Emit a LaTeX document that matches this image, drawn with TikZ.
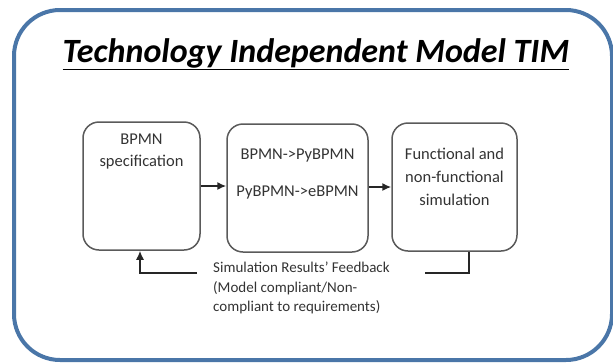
\documentclass[tikz,border=0pt]{standalone}
\usepackage{fontspec}
\setmainfont{Carlito}
\usetikzlibrary{arrows.meta, calc}
\definecolor{framecol}{HTML}{4A76A8}
\definecolor{boxcol}{HTML}{5A5A5A}
\definecolor{txtcol}{HTML}{333333}
\tikzset{
    stepbox/.style={draw=boxcol, line width=1.5pt, rounded corners=16pt, inner sep=0pt},
    boxtext/.style={text=txtcol, align=center, inner sep=0pt, font=\fontsize{16.5}{22}\selectfont},
    flow/.style={draw=black!85, line width=1.5pt, -{Latex[length=9pt, width=8pt]}},
}

\begin{document}
\begin{tikzpicture}[x=1pt, y=-1pt]
        \useasboundingbox (0,0) rectangle (613,362);
        % outer frame
        \draw[framecol, line width=4pt, rounded corners=46pt] (14,10) rectangle (612,360);
        \node[font=\fontsize{34}{40}\selectfont\bfseries\itshape] (title) at (316,54) {\underline{Technology Independent Model TIM}};
        % the three steps
        \node[stepbox, minimum width=117pt, minimum height=128pt] (spec) at (141.5,186) {};
        \node[stepbox, minimum width=141pt, minimum height=128pt] (conv) at (297.5,188) {};
        \node[stepbox, minimum width=125pt, minimum height=128pt] (sim) at (454.5,187) {};
        \node[boxtext] (spectext) at (141.5,152) {BPMN\\specification};
        \node[boxtext] (convtop) at (297.5,156) {BPMN->PyBPMN};
        \node[boxtext] (convbot) at (297.5,193) {PyBPMN->eBPMN};
        \node[boxtext, font=\fontsize{16.5}{23}\selectfont] (simtext) at (454.5,177) {Functional and\\non-functional\\simulation};
        \draw[flow] (spec.east |- 0,186) -- (conv.west |- 0,186);
        \draw[flow] (conv.east |- 0,187) -- (sim.west |- 0,187);
        % feedback loop
        \coordinate (fbright) at (425,273);
        \coordinate (fbleft) at (197,273);
        \draw[draw=black!85, line width=1.5pt] (sim.south -| 469,0) |- (fbright);
        \draw[flow] (fbleft) -| (spec.south -| 140,0);
        \node[boxtext, anchor=north west, align=left, font=\fontsize{15}{19.5}\selectfont] (fbtext) at (213,262) {Simulation Results’ Feedback\\(Model compliant/Non-\\compliant to requirements)};
    \end{tikzpicture}
\end{document}
